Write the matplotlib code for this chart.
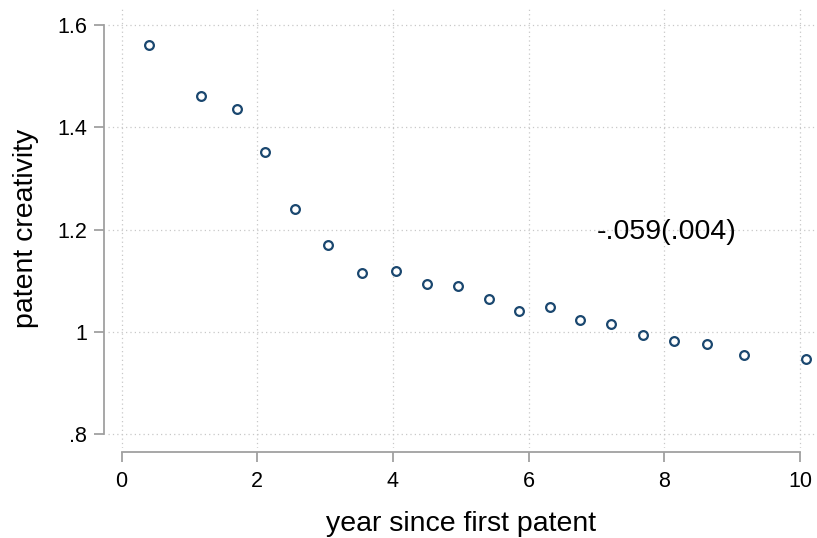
import matplotlib
matplotlib.use("Agg")
import matplotlib.pyplot as plt

years = [0.40, 1.165, 1.70, 2.11, 2.55, 3.04, 3.55, 4.04, 4.50, 4.96,
         5.41, 5.86, 6.31, 6.76, 7.21, 7.68, 8.14, 8.63, 9.17, 10.09]
creativity = [1.561, 1.461, 1.436, 1.351, 1.240, 1.169, 1.115, 1.119, 1.093, 1.089,
              1.064, 1.040, 1.048, 1.023, 1.015, 0.993, 0.982, 0.976, 0.954, 0.946]
xticks = [0, 2, 4, 6, 8, 10]
yticks = [0.8, 1.0, 1.2, 1.4, 1.6]
ytick_labels = [".8", "1", "1.2", "1.4", "1.6"]
annotation = "-.059(.004)"

plt.rcParams['font.family'] = ['Liberation Sans', 'DejaVu Sans']

fig = plt.figure(figsize=(8.17, 5.38), dpi=100)
ax = fig.add_axes([108/817, 1-448/538, (815-108)/817, (448-8)/538])

ax.plot(years, creativity, linestyle='none', marker='o', markersize=6.3,
        markerfacecolor='white', markeredgecolor='#1a476f', markeredgewidth=1.6, zorder=3)

ax.set_xlim(-0.2, 10.22)
ax.set_ylim(0.773, 1.633)
ax.set_xticks(xticks)
ax.set_xticklabels([str(t) for t in xticks])
ax.set_yticks(yticks)
ax.set_yticklabels(ytick_labels)

ax.grid(True, linestyle=(0, (1, 2.5)), color='#c8c8c8', linewidth=0.9)
ax.set_axisbelow(True)

for s in ['top', 'right']:
    ax.spines[s].set_visible(False)
for s in ['left', 'bottom']:
    ax.spines[s].set_color('#a0a0a0')
    ax.spines[s].set_linewidth(1.3)
    ax.spines[s].set_position(('outward', 3))
ax.spines['left'].set_bounds(0.8, 1.6)
ax.spines['bottom'].set_bounds(0, 10)

ax.tick_params(axis='both', direction='out', length=7.5, width=1.3, color='#a0a0a0',
               labelsize=15.5, labelcolor='black')
ax.tick_params(axis='x', pad=6)
ax.tick_params(axis='y', pad=4.5)

ax.set_xlabel("year since first patent", fontsize=20.5, labelpad=14)
ax.set_ylabel("patent creativity", fontsize=20.5, labelpad=13)

ax.text(7.0, 1.195, annotation, fontsize=20.5, ha='left', va='center')

fig.savefig("out.png", dpi=100)
